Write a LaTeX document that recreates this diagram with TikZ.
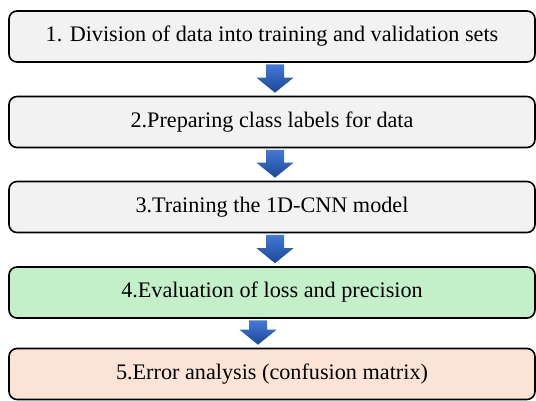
\documentclass[tikz,border=0pt]{standalone}
\usepackage{fontspec}
\setmainfont{Liberation Serif}
\usetikzlibrary{calc}
\definecolor{stepgray}{HTML}{F2F2F2}
\definecolor{stepgreen}{HTML}{C3F0C8}
\definecolor{steppeach}{HTML}{FBE3D6}
\definecolor{arrowtop}{HTML}{4479DA}
\definecolor{arrowbottom}{HTML}{1C4892}
\tikzset{
  stepbox/.style={draw=black, line width=1.6pt, rounded corners=8pt,
    minimum width=526pt, minimum height=51pt, inner sep=0pt,
    font=\fontsize{22.2}{26}\selectfont},
  arrowfill/.style={top color=arrowtop, bottom color=arrowbottom, draw=none}
}
% block arrow from the bottom of #1 to the top of #2, centred at x=#3
\newcommand{\flowarrow}[3]{%
  \shade[arrowfill] let \p1=(#1.south), \p2=(#2.north) in
    ({#3-9},{\y1-1.5}) -- ({#3+9},{\y1-1.5}) -- ({#3+9},{\y2+18})
    -- ({#3+18.5},{\y2+18}) -- (#3,{\y2+3}) -- ({#3-18.5},{\y2+18})
    -- ({#3-9},{\y2+18}) -- cycle;}
\begin{document}
\begin{tikzpicture}[x=1pt,y=1pt]
\useasboundingbox (0,0) rectangle (536,400);
\node[stepbox, fill=stepgray]   (s1) at (272,363.5) {1. Division of data into training and validation sets};
\node[stepbox, fill=stepgray]   (s2) at (272,278)   {2.Preparing class labels for data};
\node[stepbox, fill=stepgray]   (s3) at (272,193)   {3.Training the 1D-CNN model};
\node[stepbox, fill=stepgreen]  (s4) at (272,107.5) {4.Evaluation of loss and precision};
\node[stepbox, fill=steppeach]  (s5) at (272,26)    {5.Error analysis (confusion matrix)};
\flowarrow{s1}{s2}{275}
\flowarrow{s2}{s3}{275}
\flowarrow{s3}{s4}{275}
\flowarrow{s4}{s5}{258}
\end{tikzpicture}
\end{document}
